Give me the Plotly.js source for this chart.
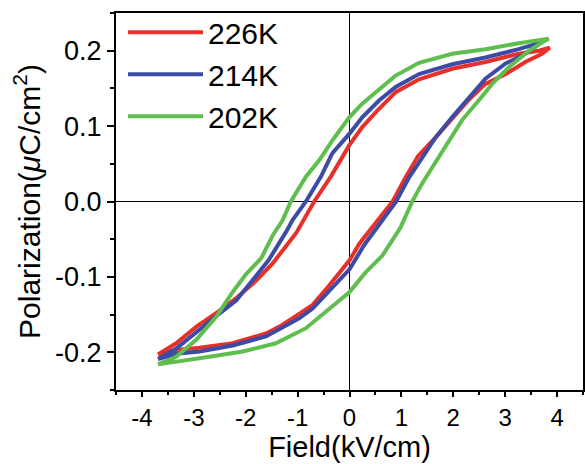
<!DOCTYPE html>
<html>
<head>
<meta charset="utf-8">
<script src="https://cdn.plot.ly/plotly-3.0.1.min.js"></script>
<style>html,body{margin:0;padding:0;background:#fff;}#chart{width:585px;height:464px;}</style>
</head>
<body>
<div id="chart"></div>
<script>
// Series names
const seriesNames = ["226K", "214K", "202K"];
const seriesColors = ["#e8302a", "#3b4ba6", "#5fbe4e"];

// 226K loop (lower branch from negative tip, then upper branch back)
const field226 = [-3.69, -3.34, -2.89, -2.25, -1.61, -1.35, -0.97, -0.71, -0.40, 0.00, 0.19, 0.51, 0.83, 1.08, 1.32, 1.66, 1.98, 2.30, 2.62, 3.01, 3.39, 3.71, 3.86,
                  3.65, 3.26, 2.62, 1.98, 1.34, 0.89, 0.57, 0.25, 0.00, -0.36, -0.68, -1.03, -1.48, -1.80, -2.18, -2.57, -2.95, -3.34, -3.69];
const pol226   = [-0.203, -0.197, -0.194, -0.188, -0.175, -0.166, -0.149, -0.137, -0.112, -0.078, -0.056, -0.027, 0.000, 0.032, 0.060, 0.085, 0.110, 0.135, 0.156, 0.169, 0.185, 0.196, 0.204,
                  0.200, 0.196, 0.185, 0.176, 0.162, 0.145, 0.123, 0.099, 0.075, 0.033, 0.000, -0.042, -0.082, -0.105, -0.128, -0.148, -0.166, -0.188, -0.203];

// 214K loop
const field214 = [-3.69, -3.34, -2.89, -2.25, -1.61, -1.35, -0.97, -0.71, -0.36, 0.00, 0.28, 0.60, 0.90, 1.15, 1.40, 1.66, 1.98, 2.30, 2.62, 3.01, 3.39, 3.70,
                  3.26, 2.62, 1.98, 1.34, 0.89, 0.57, 0.25, 0.00, -0.33, -0.55, -0.84, -1.10, -1.22, -1.56, -2.00, -2.18, -2.57, -2.95, -3.34, -3.69];
const pol214   = [-0.209, -0.202, -0.199, -0.191, -0.179, -0.169, -0.155, -0.142, -0.117, -0.090, -0.058, -0.027, 0.000, 0.032, 0.057, 0.085, 0.112, 0.138, 0.163, 0.183, 0.196, 0.211,
                  0.202, 0.191, 0.182, 0.169, 0.152, 0.134, 0.112, 0.090, 0.064, 0.033, 0.000, -0.025, -0.040, -0.078, -0.115, -0.131, -0.152, -0.173, -0.195, -0.209];

// 202K loop
const field202 = [-3.69, -3.34, -2.70, -2.06, -1.42, -0.84, -0.39, 0.00, 0.31, 0.63, 0.98, 1.21, 1.40, 1.60, 1.85, 2.17, 2.49, 2.75, 3.07, 3.46, 3.71, 3.84,
                  3.26, 2.62, 1.98, 1.53, 1.34, 0.89, 0.57, 0.25, 0.00, -0.33, -0.58, -0.84, -1.13, -1.29, -1.48, -1.70, -2.00, -2.25, -2.57, -2.95, -3.34, -3.69];
const pol202   = [-0.216, -0.212, -0.206, -0.199, -0.188, -0.168, -0.142, -0.120, -0.094, -0.072, -0.035, 0.000, 0.024, 0.046, 0.072, 0.108, 0.134, 0.156, 0.178, 0.200, 0.211, 0.216,
                  0.210, 0.202, 0.196, 0.187, 0.184, 0.167, 0.149, 0.130, 0.112, 0.081, 0.055, 0.033, 0.000, -0.025, -0.045, -0.075, -0.097, -0.120, -0.153, -0.183, -0.206, -0.216];

const xTickVals = [-4, -3, -2, -1, 0, 1, 2, 3, 4];
const xTickText = ["-4", "-3", "-2", "-1", "0", "1", "2", "3", "4"];
const yTickVals = [-0.2, -0.1, 0.0, 0.1, 0.2];
const yTickText = ["-0.2", "-0.1", "0.0", "0.1", "0.2"];

const fieldData = [field226, field214, field202];
const polData = [pol226, pol214, pol202];

const traces = seriesNames.map((name, i) => ({
  type: "scatter",
  mode: "lines",
  name: name,
  x: fieldData[i],
  y: polData[i],
  line: {color: seriesColors[i], width: 4}
}));

const fontFam = "Liberation Sans, Arial, sans-serif";

const layout = {
  width: 585,
  height: 464,
  margin: {l: 116, r: 2, t: 13, b: 74},
  paper_bgcolor: "#ffffff",
  plot_bgcolor: "#ffffff",
  font: {family: fontFam, color: "#000", size: 26},
  showlegend: true,
  legend: {
    x: 0.015, y: 1.018, xanchor: "left", yanchor: "top",
    bgcolor: "rgba(0,0,0,0)",
    font: {size: 30, family: fontFam, color: "#000"},
    itemwidth: 75,
    tracegroupgap: 0
  },
  xaxis: {
    range: [-4.5, 4.5],
    tickvals: xTickVals,
    ticktext: xTickText,
    ticks: "outside", ticklen: 5, tickwidth: 2, tickcolor: "#000",
    minor: {dtick: 0.5, ticks: "outside", ticklen: 3, tickwidth: 2, tickcolor: "#000", showgrid: false},
    showline: true, linecolor: "#000", linewidth: 2, mirror: true,
    showgrid: false,
    zeroline: true, zerolinecolor: "#000", zerolinewidth: 1.5,
    tickfont: {size: 24},
    title: {text: "Field(kV/cm)", font: {size: 29}, standoff: 0}
  },
  yaxis: {
    range: [-0.25, 0.25],
    tickvals: yTickVals,
    ticktext: yTickText,
    ticks: "outside", ticklen: 7, tickwidth: 2, tickcolor: "#000",
    minor: {dtick: 0.05, ticks: "outside", ticklen: 4, tickwidth: 2, tickcolor: "#000", showgrid: false},
    showline: true, linecolor: "#000", linewidth: 2, mirror: true,
    showgrid: false,
    zeroline: true, zerolinecolor: "#000", zerolinewidth: 1.5,
    tickfont: {size: 27},
    title: {text: "Polarization(<i>μ</i>C/cm<sup>2</sup>)", font: {size: 30}, standoff: 6}
  }
};

Plotly.newPlot("chart", traces, layout, {staticPlot: true, displayModeBar: false});
</script>
</body>
</html>
